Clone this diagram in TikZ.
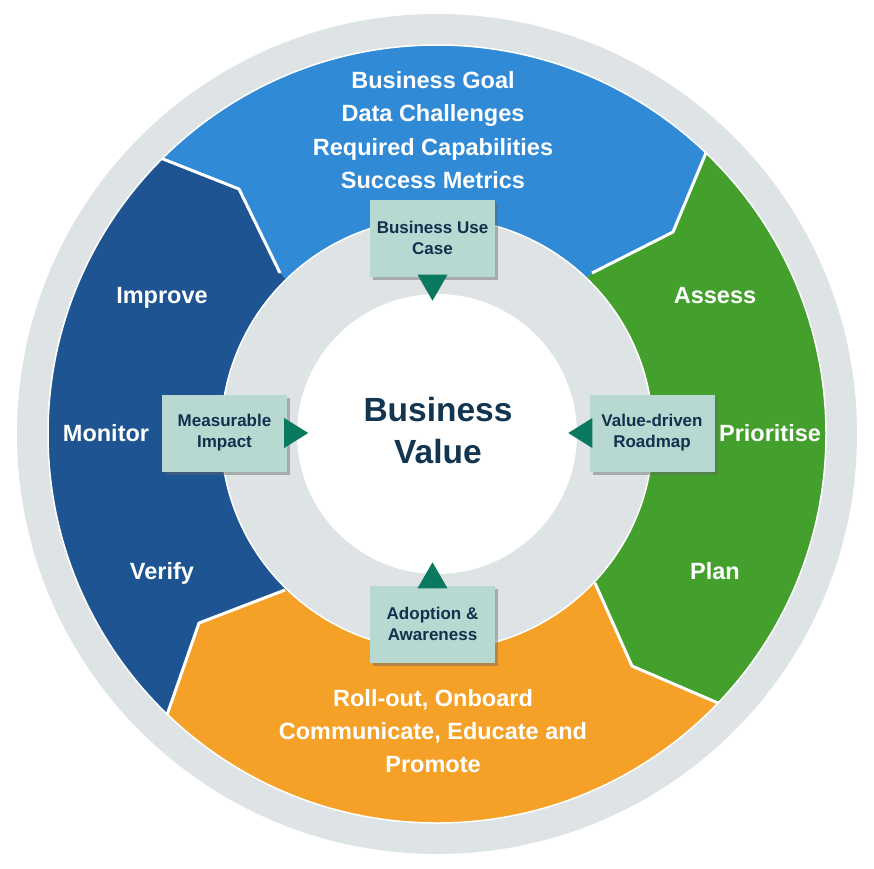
\documentclass[tikz,border=0pt]{standalone}
\usepackage{fontspec}
\setmainfont{Liberation Sans}
\usetikzlibrary{shadows}
\definecolor{ringgray}{HTML}{DEE4E5}
\definecolor{segblue}{HTML}{308AD6}
\definecolor{segdark}{HTML}{1D5491}
\definecolor{seggreen}{HTML}{43A02D}
\definecolor{segorange}{HTML}{F5A128}
\definecolor{boxfill}{HTML}{B7D9D2}
\definecolor{boxtext}{HTML}{13304C}
\definecolor{tricol}{HTML}{097A60}
\definecolor{centertext}{HTML}{123652}
\tikzset{
  seglabel/.style={text=white, font=\bfseries\fontsize{23.5}{33.3}\selectfont, align=center, inner sep=0pt},
  stagebox/.style={fill=boxfill, minimum width=125pt, minimum height=77pt, text=boxtext,
    font=\bfseries\fontsize{17}{21}\selectfont, align=center, inner sep=0pt,
    drop shadow={shadow xshift=3pt, shadow yshift=-3pt, opacity=0.45, fill=black!60}},
  tri/.style={fill=tricol},
  seam/.style={white, line width=3pt, line join=round}
}
\begin{document}
\begin{tikzpicture}[x=1pt,y=-1pt]
\useasboundingbox (0,0) rectangle (874,868);
\coordinate (C) at (437,434);
\fill[ringgray] (C) circle[radius=420pt];
\begin{scope}
  \clip (C) circle[radius=389pt];
  \fill[segblue] (C) -- (280,273) -- (239,189) -- (158,157) -- (-20,87) -- (-20,-100) -- (900,-100) -- (760,23) -- (708,148) -- (673,232) -- (592,273) -- cycle;
  \fill[seggreen] (C) -- (592,273) -- (673,232) -- (708,148) -- (760,23) -- (950,-100) -- (950,800) -- (890,777) -- (718,703) -- (632,666) -- (595,583) -- cycle;
  \fill[segorange] (C) -- (595,583) -- (632,666) -- (718,703) -- (890,777) -- (950,950) -- (-50,950) -- (137,801) -- (168,712) -- (199,623) -- (285,590) -- cycle;
  \fill[segdark] (C) -- (285,590) -- (199,623) -- (168,712) -- (137,801) -- (-50,950) -- (-50,87) -- (-20,87) -- (158,157) -- (239,189) -- (280,273) -- cycle;
  \draw[seam] (280,273) -- (239,189) -- (158,157) -- (-20,87);
  \draw[seam] (592,273) -- (673,232) -- (708,148) -- (760,23);
  \draw[seam] (595,583) -- (632,666) -- (718,703) -- (890,777);
  \draw[seam] (285,590) -- (199,623) -- (168,712) -- (137,801);
\end{scope}
\draw[white, line width=1.5pt] (C) circle[radius=389pt];
\fill[ringgray, draw=white, line width=1.5pt] (C) circle[radius=216pt];
\fill[white] (C) circle[radius=140pt];

% segment texts
\node[seglabel] (topt) at (433,130) {Business Goal\\Data Challenges\\Required Capabilities\\Success Metrics};
\node[seglabel] (imp) at (162,298) {Improve};
\node[seglabel] (mon) at (106,433) {Monitor};
\node[seglabel] (ver) at (162,573) {Verify};
\node[seglabel] (ass) at (715,296) {Assess};
\node[seglabel] (pri) at (770,433) {Prioritise};
\node[seglabel] (pla) at (715,571) {Plan};
\node[seglabel] (bott) at (433,731) {Roll-out, Onboard\\Communicate, Educate and\\Promote};

% center
\node[text=centertext, font=\bfseries\fontsize{33.5}{42}\selectfont, align=center, inner sep=0pt] (bv) at (438,431) {Business\\Value};

% boxes
\node[stagebox] (buc) at (432.5,238) {Business Use\\Case};
\node[stagebox] (ada) at (432.5,624) {Adoption \&\\Awareness};
\node[stagebox] (mi) at (224.5,433) {Measurable\\Impact};
\node[stagebox] (vr) at (652,433) {Value-driven\\Roadmap};

% triangles
\fill[tri] ([xshift=-15pt,yshift=2pt]buc.south) -- ([xshift=15pt,yshift=2pt]buc.south) -- ([yshift=-24pt]buc.south) -- cycle;
\fill[tri] ([xshift=-15pt,yshift=-3pt]ada.north) -- ([xshift=15pt,yshift=-3pt]ada.north) -- ([yshift=23pt]ada.north) -- cycle;
\fill[tri] ([xshift=-3pt,yshift=15pt]mi.east) -- ([xshift=-3pt,yshift=-15pt]mi.east) -- ([xshift=21pt]mi.east) -- cycle;
\fill[tri] ([xshift=3pt,yshift=15pt]vr.west) -- ([xshift=3pt,yshift=-15pt]vr.west) -- ([xshift=-21pt]vr.west) -- cycle;
\end{tikzpicture}
\end{document}
